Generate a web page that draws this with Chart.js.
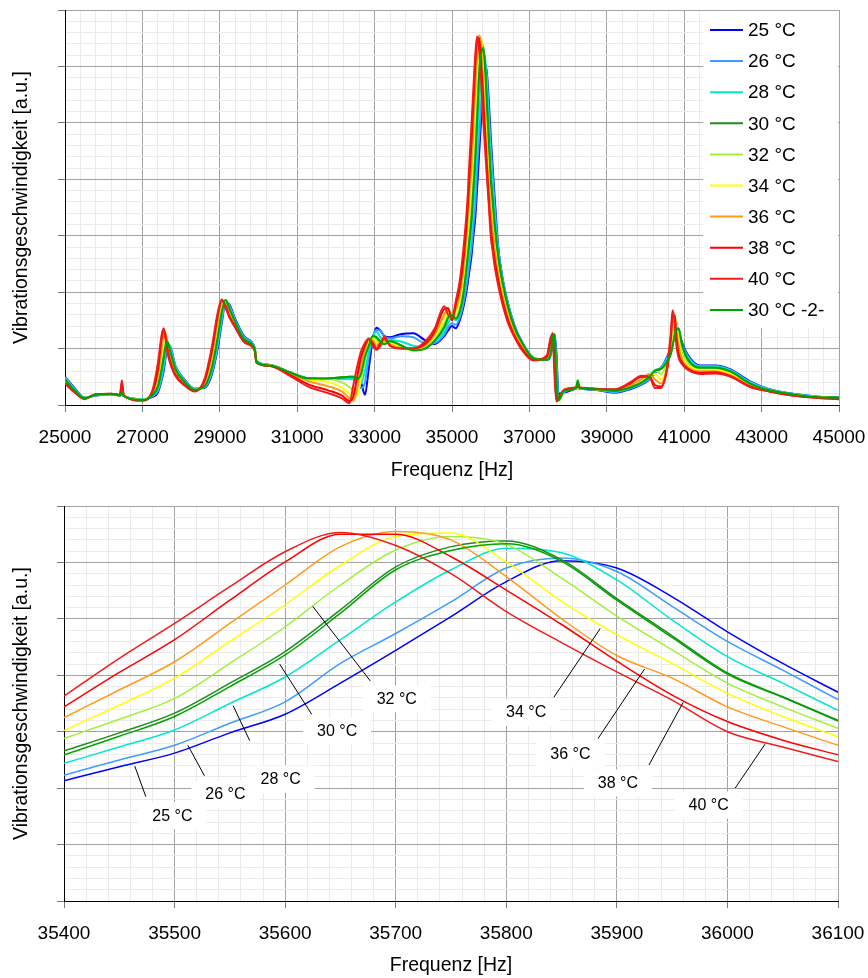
<!DOCTYPE html>
<html>
<head>
<meta charset="utf-8">
<script src="https://cdn.jsdelivr.net/npm/chart.js@4/dist/chart.umd.min.js"></script>
<style>
  html, body { margin: 0; padding: 0; background: #fff; }
  .box { position: absolute; left: 0; width: 868px; }
  #topBox { top: 0; height: 490px; }
  #zoomBox { top: 490px; height: 488px; }
</style>
</head>
<body>
<div class="box" id="topBox"><canvas id="topChart"></canvas></div>
<div class="box" id="zoomBox"><canvas id="zoomChart"></canvas></div>
<script>
// series
const names = ['25 °C', '26 °C', '28 °C', '30 °C', '32 °C', '34 °C', '36 °C', '38 °C', '40 °C', '30 °C -2-'];
const colors = ['#0000ff', '#3f9cff', '#00e8cc', '#1e8c1e', '#a2f03a', '#ffff00', '#ff9a1a', '#ff0000', '#f01c1c', '#00a400'];

// tick labels
const topHzLabels = [25000, 27000, 29000, 31000, 33000, 35000, 37000, 39000, 41000, 43000, 45000];
const zoomHzLabels = [35400, 35500, 35600, 35700, 35800, 35900, 36000, 36100];

// frequencies [Hz]
const leftHz = [25000, 25250, 25500, 25800, 26200, 26420, 26470, 26520, 27000, 27250,
  27400, 27500, 27550, 27600, 27650, 27700, 27850, 28100, 28350, 28600,
  28800, 28950, 29050, 29150, 29250, 29400, 29650, 29900, 29950, 30300,
  30800, 31300, 31800, 32150, 32350, 32450, 32550, 32650, 32750, 32850,
  32950, 33050, 33150, 33250, 33400, 33700, 34000, 34300, 34550, 34800,
  34900, 35000, 35100, 35200, 35300];
const midHz = [35400, 35450, 35500, 35550, 35600, 35650, 35700, 35750, 35800, 35850, 35900, 35950, 36000, 36050, 36100];
const rightHz = [36200, 36300, 36450, 36600, 36800, 37100, 37450, 37550, 37600, 37650,
  37700, 37750, 37900, 38200, 38250, 38300, 38700, 39200, 39600, 39900,
  40100, 40250, 40400, 40550, 40650, 40700, 40750, 40800, 40850, 40950,
  41100, 41400, 41800, 42200, 42700, 43200, 43800, 44400, 45000];

// vibration velocity [a.u.], below the zoom window
const left25 = [0.50,0.30,0.13,0.17,0.19,0.17,0.20,0.16,0.10,0.14, 0.22,0.45,0.60,0.85,1.04,1.06,0.70,0.44,0.29,0.30, 0.55,1.02,1.45,1.82,1.78,1.52,1.20,1.02,0.78,0.71, 0.58,0.47,0.46,0.46,0.46,0.46,0.45,0.40,0.18,0.65, 1.15,1.37,1.32,1.22,1.20,1.26,1.27,1.15,1.08,1.22, 1.32,1.40,1.36,1.50,1.75];
const left26 = [0.49,0.29,0.13,0.17,0.19,0.17,0.20,0.16,0.10,0.15, 0.25,0.48,0.65,0.88,1.06,1.06,0.70,0.43,0.29,0.31, 0.58,1.06,1.50,1.84,1.76,1.50,1.19,1.02,0.78,0.71, 0.58,0.47,0.46,0.46,0.46,0.45,0.42,0.30,0.40,0.85, 1.20,1.33,1.32,1.22,1.18,1.22,1.20,1.10,1.10,1.25, 1.38,1.45,1.42,1.55,1.82];
const left28 = [0.47,0.28,0.12,0.18,0.19,0.17,0.21,0.16,0.10,0.16, 0.28,0.55,0.72,0.95,1.10,1.05,0.68,0.42,0.28,0.32, 0.62,1.12,1.55,1.85,1.74,1.49,1.17,1.01,0.77,0.71, 0.58,0.47,0.46,0.46,0.46,0.46,0.43,0.38,0.60,0.95, 1.20,1.30,1.20,1.12,1.15,1.12,1.05,1.02,1.12,1.30, 1.45,1.55,1.50,1.62,1.95];
const left30 = [0.44,0.26,0.12,0.18,0.19,0.17,0.22,0.16,0.09,0.17, 0.33,0.65,0.85,1.05,1.12,1.00,0.64,0.40,0.27,0.33, 0.68,1.22,1.65,1.86,1.70,1.46,1.15,1.00,0.76,0.70, 0.58,0.47,0.47,0.49,0.50,0.50,0.44,0.55,0.85,1.05, 1.22,1.20,1.12,1.08,1.13,1.05,0.97,1.00,1.14,1.38, 1.55,1.62,1.55,1.68,2.05];
const left32 = [0.43,0.25,0.12,0.18,0.19,0.17,0.24,0.16,0.09,0.18, 0.38,0.80,1.00,1.15,1.12,0.97,0.62,0.39,0.27,0.34, 0.74,1.32,1.72,1.86,1.66,1.44,1.14,1.00,0.76,0.70, 0.58,0.46,0.46,0.40,0.32,0.26,0.24,0.45,0.80,1.08, 1.20,1.15,1.05,1.08,1.12,1.03,0.97,1.02,1.17,1.45, 1.60,1.63,1.55,1.75,2.15];
const left34 = [0.42,0.25,0.12,0.18,0.19,0.17,0.32,0.16,0.09,0.19, 0.45,0.92,1.15,1.25,1.10,0.92,0.60,0.38,0.26,0.36, 0.82,1.42,1.78,1.84,1.63,1.42,1.13,0.99,0.76,0.70, 0.57,0.45,0.41,0.31,0.20,0.14,0.16,0.55,0.90,1.12, 1.18,1.10,1.10,1.10,1.10,1.02,0.98,1.03,1.20,1.52, 1.65,1.60,1.62,1.85,2.30];
const left36 = [0.40,0.24,0.11,0.19,0.19,0.17,0.28,0.16,0.09,0.20, 0.52,1.02,1.25,1.28,1.05,0.87,0.57,0.37,0.26,0.38, 0.90,1.50,1.82,1.80,1.60,1.40,1.12,0.98,0.75,0.70, 0.56,0.42,0.33,0.24,0.12,0.07,0.30,0.70,0.98,1.15, 1.15,1.05,1.12,1.15,1.08,1.01,1.00,1.05,1.25,1.60, 1.70,1.55,1.70,1.95,2.45];
const left38 = [0.39,0.23,0.11,0.19,0.20,0.18,0.38,0.16,0.08,0.22, 0.62,1.20,1.34,1.22,0.98,0.82,0.54,0.35,0.25,0.42, 0.98,1.60,1.86,1.75,1.57,1.38,1.11,0.97,0.75,0.69, 0.54,0.36,0.26,0.17,0.07,0.15,0.50,0.85,1.05,1.17, 1.10,1.00,1.10,1.18,1.05,1.00,1.00,1.08,1.30,1.70, 1.72,1.50,1.78,2.08,2.60];
const left40 = [0.38,0.22,0.11,0.19,0.20,0.18,0.44,0.16,0.08,0.24, 0.74,1.25,1.36,1.15,0.92,0.78,0.52,0.34,0.24,0.45, 1.05,1.65,1.87,1.72,1.55,1.37,1.10,0.97,0.75,0.69, 0.52,0.32,0.21,0.12,0.03,0.35,0.68,0.95,1.10,1.18, 1.05,0.98,1.05,1.22,1.05,1.00,1.00,1.12,1.35,1.75, 1.60,1.55,1.85,2.20,2.80];
const left30b = [0.45,0.26,0.12,0.18,0.19,0.17,0.22,0.16,0.09,0.17, 0.33,0.65,0.85,1.05,1.12,1.00,0.64,0.40,0.27,0.33, 0.68,1.22,1.65,1.86,1.70,1.46,1.15,1.00,0.76,0.70, 0.58,0.47,0.47,0.49,0.50,0.50,0.46,0.55,0.85,1.05, 1.22,1.20,1.12,1.08,1.13,1.05,0.97,1.00,1.14,1.38, 1.55,1.60,1.53,1.66,2.00];

// zoom window 35400..36100 Hz (also the main peak of the upper chart)
const mid25 = [2.13, 2.38, 2.62, 2.98, 3.31, 3.86, 4.44, 5.04, 5.66, 6.03, 5.90, 5.39, 4.77, 4.21, 3.70];
const mid26 = [2.23, 2.50, 2.76, 3.15, 3.53, 4.21, 4.74, 5.30, 5.90, 6.08, 5.84, 5.22, 4.60, 4.09, 3.57];
const mid28 = [2.44, 2.73, 3.03, 3.50, 3.97, 4.63, 5.30, 5.87, 6.25, 6.17, 5.69, 4.98, 4.33, 3.86, 3.38];
const mid30 = [2.66, 2.98, 3.33, 3.86, 4.42, 5.16, 5.92, 6.28, 6.38, 6.05, 5.36, 4.70, 4.04, 3.62, 3.20];
const mid32 = [2.88, 3.22, 3.59, 4.21, 4.86, 5.60, 6.22, 6.46, 6.32, 5.72, 5.05, 4.45, 3.86, 3.44, 3.06];
const mid34 = [3.02, 3.47, 3.95, 4.60, 5.25, 5.95, 6.46, 6.52, 6.01, 5.31, 4.72, 4.21, 3.68, 3.27, 2.91];
const mid36 = [3.25, 3.74, 4.24, 4.92, 5.60, 6.28, 6.55, 6.40, 5.75, 5.00, 4.35, 3.95, 3.44, 3.09, 2.76];
const mid38 = [3.44, 4.05, 4.63, 5.33, 6.01, 6.50, 6.50, 6.10, 5.51, 4.90, 4.25, 3.65, 3.18, 2.85, 2.59];
const mid40 = [3.63, 4.30, 4.92, 5.57, 6.19, 6.53, 6.30, 5.80, 5.13, 4.58, 4.06, 3.56, 3.00, 2.73, 2.47];
const mid30b = [2.59, 2.92, 3.27, 3.80, 4.36, 5.10, 5.87, 6.21, 6.33, 6.02, 5.33, 4.67, 4.02, 3.61, 3.19];

// above the zoom window
const right25 = [2.76,2.27,1.79,1.44,1.12,0.84,0.80,0.88,1.08,1.25, 0.90,0.20,0.22,0.29,0.30,0.29,0.27,0.22,0.28,0.36, 0.45,0.57,0.66,0.84,1.02,1.18,1.30,1.35,1.30,1.10, 0.88,0.70,0.70,0.63,0.42,0.28,0.20,0.15,0.13];
const right26 = [2.75,2.27,1.79,1.43,1.13,0.84,0.80,0.88,1.10,1.26, 0.80,0.15,0.23,0.29,0.30,0.29,0.27,0.23,0.29,0.37, 0.46,0.58,0.66,0.82,1.00,1.15,1.28,1.33,1.28,1.08, 0.86,0.69,0.69,0.62,0.41,0.28,0.20,0.15,0.13];
const right28 = [2.67,2.22,1.76,1.41,1.12,0.84,0.80,0.90,1.15,1.26, 0.60,0.10,0.24,0.30,0.31,0.30,0.28,0.24,0.30,0.39, 0.48,0.60,0.66,0.80,0.95,1.10,1.25,1.32,1.30,1.05, 0.84,0.68,0.68,0.61,0.40,0.27,0.19,0.15,0.13];
const right30 = [2.61,2.19,1.73,1.40,1.12,0.83,0.80,0.92,1.20,1.25, 0.40,0.08,0.25,0.30,0.36,0.30,0.28,0.25,0.31,0.40, 0.50,0.62,0.64,0.76,0.90,1.05,1.22,1.33,1.36,1.05, 0.80,0.66,0.66,0.59,0.38,0.26,0.19,0.14,0.13];
const right32 = [2.47,2.10,1.67,1.36,1.09,0.83,0.81,0.95,1.22,1.15, 0.30,0.07,0.25,0.30,0.32,0.30,0.28,0.25,0.32,0.41, 0.53,0.62,0.55,0.72,0.95,1.20,1.42,1.45,1.25,0.92, 0.74,0.64,0.64,0.57,0.37,0.26,0.19,0.14,0.12];
const right34 = [2.37,2.02,1.62,1.33,1.07,0.82,0.82,1.00,1.25,1.05, 0.20,0.07,0.26,0.30,0.32,0.30,0.28,0.26,0.33,0.43, 0.55,0.55,0.45,0.66,1.00,1.35,1.55,1.45,1.15,0.85, 0.70,0.62,0.62,0.55,0.36,0.25,0.18,0.14,0.12];
const right36 = [2.28,1.95,1.56,1.29,1.04,0.81,0.83,1.05,1.27,0.90, 0.12,0.08,0.26,0.30,0.32,0.30,0.28,0.26,0.35,0.46, 0.55,0.45,0.38,0.62,1.05,1.45,1.60,1.35,1.05,0.80, 0.67,0.60,0.60,0.53,0.35,0.25,0.18,0.14,0.12];
const right38 = [2.19,1.87,1.50,1.25,1.01,0.80,0.85,1.15,1.27,0.70, 0.08,0.10,0.27,0.31,0.33,0.31,0.29,0.27,0.38,0.50, 0.50,0.35,0.33,0.60,1.15,1.60,1.58,1.20,0.92,0.75, 0.64,0.57,0.58,0.51,0.33,0.24,0.17,0.13,0.11];
const right40 = [2.10,1.80,1.45,1.22,0.98,0.79,0.88,1.20,1.25,0.50, 0.06,0.12,0.27,0.31,0.34,0.31,0.29,0.28,0.40,0.52, 0.50,0.30,0.30,0.65,1.25,1.68,1.50,1.05,0.85,0.72, 0.62,0.55,0.56,0.50,0.32,0.24,0.17,0.13,0.10];
const right30b = [2.59,2.18,1.72,1.39,1.11,0.83,0.80,0.92,1.20,1.25, 0.40,0.08,0.25,0.30,0.44,0.30,0.28,0.25,0.31,0.40, 0.50,0.61,0.64,0.76,0.90,1.05,1.22,1.33,1.36,1.05, 0.80,0.66,0.66,0.59,0.38,0.26,0.19,0.14,0.13];

// leader-line labels in the zoom chart
const noteText = ['25 °C', '26 °C', '28 °C', '30 °C', '32 °C', '34 °C', '36 °C', '38 °C', '40 °C'];
const noteHz = [35498, 35546, 35596, 35647, 35701, 35818, 35858, 35901, 35983];
const noteVal = [1.52, 1.90, 2.17, 3.02, 3.59, 3.35, 2.62, 2.10, 1.71];
const pointHz = [35464, 35512, 35553, 35595, 35625, 35885, 35925, 35960, 36034];
const pointVal = [2.39, 2.76, 3.46, 4.20, 5.22, 4.83, 4.11, 3.52, 2.78];
const tailHz = [35474, 35527, 35568, 35624, 35677, 35843, 35883, 35929, 36007];
const tailVal = [1.85, 2.22, 2.84, 3.31, 3.90, 3.61, 2.88, 2.41, 2.00];

const leftSets = [left25, left26, left28, left30, left32, left34, left36, left38, left40, left30b];
const midSets = [mid25, mid26, mid28, mid30, mid32, mid34, mid36, mid38, mid40, mid30b];
const rightSets = [right25, right26, right28, right30, right32, right34, right36, right38, right40, right30b];

Chart.defaults.font.family = '"Liberation Sans", Arial, sans-serif';
Chart.defaults.color = '#000';

const FONT = '"Liberation Sans", Arial, sans-serif';
const YTITLE = 'Vibrationsgeschwindigkeit [a.u.]';

function toPoints(hz, vals) {
  return hz.map((x, i) => ({ x: x, y: vals[i] }));
}

function makeSets(hz, valueSets, width) {
  return names.map((name, i) => ({
    label: name,
    data: toPoints(hz, valueSets[i]),
    borderColor: colors[i],
    backgroundColor: colors[i],
    borderWidth: width,
    pointRadius: 0,
    fill: false,
    cubicInterpolationMode: 'monotone',
    order: names.length - i
  }));
}

function isWhole(v) {
  return Math.abs(v - Math.round(v)) < 1e-6;
}

function xScale(min, max, step, labels, height, titlePad) {
  return {
    type: 'linear',
    min: min,
    max: max,
    afterFit: s => {
      s.height = height;
      s.paddingLeft = 0;
      s.paddingRight = 0;
    },
    ticks: {
      stepSize: step,
      autoSkip: false,
      maxRotation: 0,
      padding: 14,
      font: { size: 19 },
      color: '#000',
      callback: v => labels.includes(v) ? String(v) : ''
    },
    grid: {
      color: c => (c.tick && labels.includes(c.tick.value)) ? '#a3a3a3' : '#ebebeb',
      tickColor: c => (c.tick && labels.includes(c.tick.value)) ? '#7a7a7a' : 'rgba(0,0,0,0)',
      tickLength: 7,
      lineWidth: 1
    },
    border: { color: '#000', width: 1 },
    title: {
      display: true,
      text: 'Frequenz [Hz]',
      font: { size: 19.5 },
      color: '#000',
      padding: { top: titlePad, bottom: titlePad }
    }
  };
}

function yScale(width) {
  return {
    min: 0,
    max: 7,
    afterFit: s => { s.width = width; },
    ticks: { stepSize: 0.2, display: false },
    grid: {
      color: c => (c.tick && isWhole(c.tick.value)) ? '#a3a3a3' : '#ebebeb',
      tickColor: c => (c.tick && isWhole(c.tick.value)) ? '#7a7a7a' : 'rgba(0,0,0,0)',
      tickLength: 7,
      lineWidth: 1
    },
    border: { color: '#000', width: 1 },
    title: {
      display: true,
      text: YTITLE,
      font: { size: 19.5 },
      color: '#000',
      padding: { top: 10, bottom: 10 }
    }
  };
}

// legend box inside the upper plot, top right
const boxLegend = {
  id: 'boxLegend',
  afterDatasetsDraw(chart) {
    const { ctx, chartArea } = chart;
    const left = chartArea.right - 136;
    const top = chartArea.top;
    ctx.save();
    ctx.fillStyle = '#fff';
    ctx.fillRect(left, top + 1, 135, 317);
    ctx.font = '19px ' + FONT;
    ctx.textBaseline = 'middle';
    ctx.textAlign = 'left';
    chart.data.datasets.forEach((ds, i) => {
      const y = top + 20 + i * 31.1;
      ctx.strokeStyle = ds.borderColor;
      ctx.lineWidth = 2;
      ctx.beginPath();
      ctx.moveTo(left + 7, y);
      ctx.lineTo(left + 40, y);
      ctx.stroke();
      ctx.fillStyle = '#000';
      ctx.fillText(ds.label, left + 45, y + 1);
    });
    ctx.restore();
  }
};

// labels with leader lines in the zoom chart
const leaderNotes = {
  id: 'leaderNotes',
  afterDatasetsDraw(chart) {
    const { ctx } = chart;
    const xs = chart.scales.x, ys = chart.scales.y;
    ctx.save();
    ctx.font = '16px ' + FONT;
    ctx.textAlign = 'center';
    ctx.textBaseline = 'middle';
    noteText.forEach((t, i) => {
      ctx.strokeStyle = '#000';
      ctx.lineWidth = 1;
      ctx.beginPath();
      ctx.moveTo(xs.getPixelForValue(pointHz[i]), ys.getPixelForValue(pointVal[i]));
      ctx.lineTo(xs.getPixelForValue(tailHz[i]), ys.getPixelForValue(tailVal[i]));
      ctx.stroke();
      const cx = xs.getPixelForValue(noteHz[i]);
      const cy = ys.getPixelForValue(noteVal[i]);
      ctx.fillStyle = '#fff';
      ctx.fillRect(cx - 34, cy - 13, 68, 27);
      ctx.fillStyle = '#000';
      ctx.fillText(t, cx, cy + 1);
    });
    ctx.restore();
  }
};

const topHz = [...leftHz, ...midHz, ...rightHz];
const topValues = names.map((n, i) => [...leftSets[i], ...midSets[i], ...rightSets[i]]);

new Chart(document.getElementById('topChart'), {
  type: 'line',
  data: { datasets: makeSets(topHz, topValues, 2) },
  options: {
    responsive: true,
    maintainAspectRatio: false,
    animation: false,
    devicePixelRatio: 1,
    layout: { padding: { top: 10, right: 29, left: 0, bottom: 0 } },
    plugins: { legend: { display: false }, tooltip: { enabled: false } },
    scales: {
      x: xScale(25000, 45000, 400, topHzLabels, 85, 8),
      y: yScale(65)
    }
  },
  plugins: [boxLegend]
});

new Chart(document.getElementById('zoomChart'), {
  type: 'line',
  data: { datasets: makeSets(midHz, midSets, 1.5) },
  options: {
    responsive: true,
    maintainAspectRatio: false,
    animation: false,
    devicePixelRatio: 1,
    layout: { padding: { top: 16, right: 30, left: 0, bottom: 0 } },
    plugins: { legend: { display: false }, tooltip: { enabled: false } },
    scales: {
      x: xScale(35400, 36100, 20, zoomHzLabels, 77, 1),
      y: yScale(64)
    }
  },
  plugins: [leaderNotes]
});
</script>
</body>
</html>
